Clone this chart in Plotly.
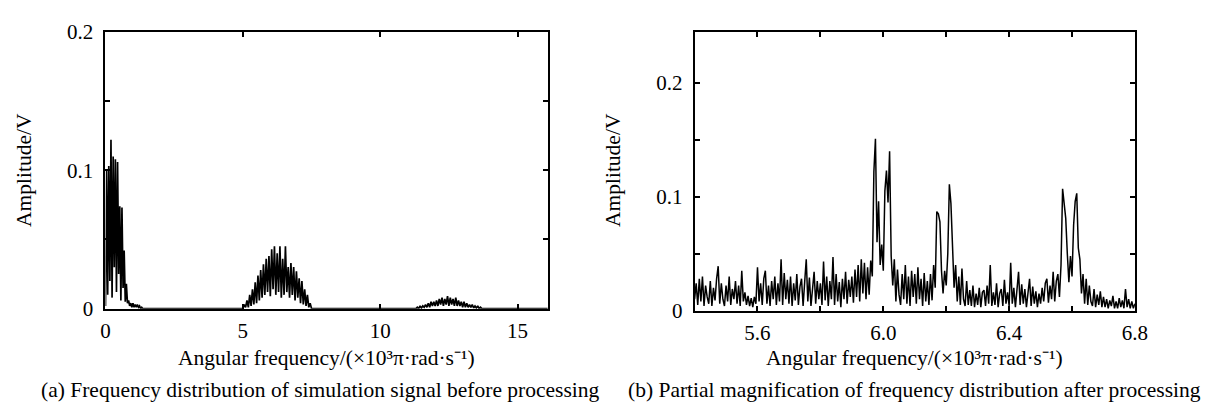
import plotly.graph_objs as go

# (a) spectrum before processing: three bursts, sampled on a regular frequency grid
burst1_start, burst1_step = 0.0, 0.04
burst1_amp = [0.002, 0.100, 0.010, 0.103, 0.020, 0.122, 0.008, 0.110, 0.030, 0.108,
              0.012, 0.106, 0.025, 0.074, 0.006, 0.073, 0.015, 0.042, 0.005, 0.018,
              0.004, 0.006, 0.002, 0.004, 0.001, 0.004, 0.001, 0.003, 0.001, 0.003,
              0.001, 0.002, 0.0, 0.001, 0.0]

burst2_start, burst2_step = 5.0, 0.05
burst2_amp = [0.0, 0.003, 0.001, 0.006, 0.001, 0.010, 0.002, 0.014, 0.003, 0.019,
              0.004, 0.024, 0.006, 0.028, 0.008, 0.032, 0.010, 0.036, 0.012, 0.038,
              0.009, 0.043, 0.014, 0.045, 0.010, 0.040, 0.012, 0.045, 0.008, 0.036,
              0.010, 0.045, 0.012, 0.030, 0.008, 0.033, 0.010, 0.030, 0.006, 0.027,
              0.008, 0.022, 0.004, 0.020, 0.003, 0.014, 0.002, 0.010, 0.001, 0.004,
              0.0]

burst3_start, burst3_step = 11.3, 0.05
burst3_amp = [0.0, 0.001, 0.0, 0.002, 0.0005, 0.002, 0.001, 0.003, 0.001, 0.004,
              0.001, 0.005, 0.002, 0.005, 0.002, 0.006, 0.002, 0.007, 0.003, 0.008,
              0.002, 0.007, 0.003, 0.009, 0.002, 0.008, 0.003, 0.007, 0.002, 0.008,
              0.002, 0.006, 0.002, 0.005, 0.001, 0.005, 0.001, 0.004, 0.001, 0.003,
              0.001, 0.003, 0.0005, 0.002, 0.0005, 0.002, 0.0, 0.001, 0.0]

freq_a_end = 16.1

# (b) magnified spectrum after processing, 5.4 .. 6.8
freq_b_start, freq_b_step = 5.4, 0.005
amp_b = [
    0.010, 0.024, 0.005, 0.028, 0.008, 0.030, 0.004, 0.022, 0.012, 0.006, 0.026, 0.004, 0.020, 0.009, 0.028, 0.039, 0.006, 0.024, 0.010, 0.004,
    0.022, 0.008, 0.030, 0.005, 0.019, 0.010, 0.026, 0.006, 0.022, 0.004, 0.035, 0.008, 0.016, 0.005, 0.013, 0.004, 0.011, 0.003, 0.012, 0.006,
    0.038, 0.008, 0.024, 0.005, 0.028, 0.035, 0.006, 0.022, 0.004, 0.026, 0.010, 0.030, 0.005, 0.024, 0.008, 0.045, 0.005, 0.033, 0.010, 0.027,
    0.006, 0.030, 0.004, 0.024, 0.009, 0.032, 0.005, 0.021, 0.028, 0.004, 0.025, 0.045, 0.008, 0.029, 0.004, 0.022, 0.034, 0.006, 0.026, 0.010,
    0.024, 0.005, 0.043, 0.009, 0.030, 0.004, 0.026, 0.010, 0.047, 0.005, 0.032, 0.008, 0.025, 0.003, 0.028, 0.010, 0.034, 0.006, 0.027, 0.012,
    0.030, 0.007, 0.036, 0.012, 0.040, 0.008, 0.045, 0.015, 0.042, 0.010, 0.038, 0.014, 0.044, 0.030, 0.122, 0.151, 0.060, 0.096, 0.040, 0.058,
    0.035, 0.105, 0.123, 0.095, 0.140, 0.048, 0.022, 0.045, 0.008, 0.036, 0.014, 0.005, 0.032, 0.010, 0.040, 0.006, 0.030, 0.004, 0.035, 0.012,
    0.032, 0.006, 0.038, 0.010, 0.028, 0.004, 0.033, 0.008, 0.026, 0.005, 0.032, 0.009, 0.040, 0.020, 0.087, 0.085, 0.078, 0.035, 0.015, 0.035,
    0.022, 0.050, 0.111, 0.094, 0.053, 0.020, 0.040, 0.008, 0.030, 0.005, 0.037, 0.010, 0.004, 0.026, 0.005, 0.018, 0.004, 0.022, 0.003, 0.015,
    0.005, 0.020, 0.003, 0.016, 0.018, 0.004, 0.022, 0.006, 0.040, 0.004, 0.016, 0.005, 0.024, 0.003, 0.015, 0.019, 0.004, 0.027, 0.006, 0.016,
    0.004, 0.042, 0.006, 0.020, 0.003, 0.018, 0.034, 0.005, 0.023, 0.006, 0.019, 0.003, 0.016, 0.028, 0.004, 0.021, 0.006, 0.017, 0.003, 0.015,
    0.006, 0.020, 0.008, 0.024, 0.028, 0.007, 0.022, 0.010, 0.034, 0.008, 0.026, 0.032, 0.012, 0.040, 0.107, 0.090, 0.081, 0.050, 0.025, 0.048,
    0.030, 0.075, 0.096, 0.103, 0.055, 0.045, 0.015, 0.032, 0.006, 0.028, 0.005, 0.022, 0.008, 0.004, 0.019, 0.003, 0.014, 0.005, 0.017, 0.003,
    0.012, 0.003, 0.010, 0.002, 0.009, 0.004, 0.013, 0.002, 0.008, 0.002, 0.011, 0.003, 0.009, 0.002, 0.019, 0.003, 0.010, 0.002, 0.008, 0.002, 0.006,
]

xticks_a = [0, 5, 10, 15]
yticks = [0, 0.05, 0.1, 0.15, 0.2]
ytick_text = ["0", "", "0.1", "", "0.2"]
xticks_b = [5.6, 5.8, 6.0, 6.2, 6.4, 6.6, 6.8]
xtick_text_b = ["5.6", "", "6.0", "", "6.4", "", "6.8"]

x_title = "Angular frequency/(×10³π·rad·s⁻¹)"
y_title = "Amplitude/V"
caption_a = "(a) Frequency distribution of simulation signal before processing"
caption_b = "(b) Partial magnification of frequency distribution after processing"


def grid(start, step, n):
    return [round(start + step * i, 4) for i in range(n)]


freq_a = (grid(burst1_start, burst1_step, len(burst1_amp))
          + grid(burst2_start, burst2_step, len(burst2_amp))
          + grid(burst3_start, burst3_step, len(burst3_amp))
          + [freq_a_end])
amp_a = burst1_amp + burst2_amp + burst3_amp + [0.0]
freq_b = grid(freq_b_start, freq_b_step, len(amp_b))

W, H = 1210, 413
FONT = "Liberation Serif, Times New Roman, serif"

fig = go.Figure()
fig.add_trace(go.Scatter(x=freq_a, y=amp_a, mode="lines",
                         line=dict(color="black", width=1.7),
                         xaxis="x", yaxis="y", showlegend=False))
fig.add_trace(go.Scatter(x=freq_b, y=amp_b, mode="lines",
                         line=dict(color="black", width=1.5),
                         xaxis="x2", yaxis="y2", showlegend=False))

axis_style = dict(showline=True, linecolor="black", linewidth=2, mirror="ticks",
                  ticks="inside", ticklen=5, tickwidth=1.5, tickcolor="black",
                  showgrid=False, zeroline=False,
                  tickfont=dict(family=FONT, size=21, color="black"))


def px_x(p):
    return p / W


def px_y(p):
    return 1 - p / H


fig.update_layout(
    width=W, height=H, autosize=False,
    margin=dict(l=0, r=0, t=0, b=0),
    paper_bgcolor="white", plot_bgcolor="white",
    font=dict(family=FONT, size=21, color="black"),
    xaxis=dict(domain=[px_x(102), px_x(551)], range=[0, freq_a_end],
               tickvals=xticks_a, anchor="y", ticklabelstandoff=2, **axis_style),
    yaxis=dict(domain=[px_y(315), px_y(21)], range=[0, 0.2],
               tickvals=yticks, ticktext=ytick_text, anchor="x", ticklabelstandoff=6, **axis_style),
    xaxis2=dict(domain=[px_x(700), px_x(1147)], range=[5.4, 6.8],
                tickvals=xticks_b, ticktext=xtick_text_b, anchor="y2", ticklabelstandoff=2, **axis_style),
    yaxis2=dict(domain=[px_y(317), px_y(21)], range=[0, 0.245],
                tickvals=yticks, ticktext=ytick_text, anchor="x2", ticklabelstandoff=6, **axis_style),
)

notes = [
    (px_x(326), px_y(367), x_title, 0),
    (px_x(923), px_y(367), x_title, 0),
    (px_x(320), px_y(401), caption_a, 0),
    (px_x(923), px_y(401), caption_b, 0),
    (px_x(20), px_y(168), y_title, -90),
    (px_x(617), px_y(168), y_title, -90),
]
for x, y, text, ang in notes:
    fig.add_annotation(x=x, y=y, xref="paper", yref="paper", text=text,
                       showarrow=False, textangle=ang, xanchor="center", yanchor="middle",
                       font=dict(family=FONT, size=21.5, color="black"))

# the page body has a default 8px margin; drop it so the figure sits at the window origin
fig.write_html("out.html", config={"displayModeBar": False},
               post_script="document.body.style.margin='0';")
